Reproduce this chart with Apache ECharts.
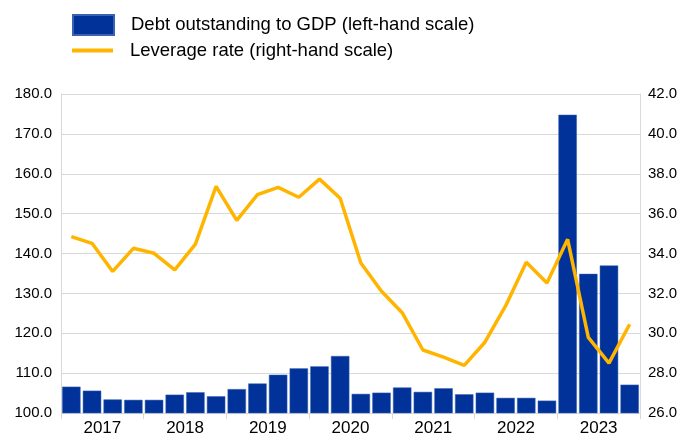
<!DOCTYPE html>
<html>
<head>
<meta charset="utf-8">
<script src="https://cdn.jsdelivr.net/npm/echarts@6/dist/echarts.min.js"></script>
<style>
html,body{margin:0;padding:0;background:#fff;}
#chart{width:685px;height:437px;}
</style>
</head>
<body>
<div id="chart"></div>
<script>
var quarters = ['2017Q1','2017Q2','2017Q3','2017Q4','2018Q1','2018Q2','2018Q3','2018Q4','2019Q1','2019Q2','2019Q3','2019Q4','2020Q1','2020Q2','2020Q3','2020Q4','2021Q1','2021Q2','2021Q3','2021Q4','2022Q1','2022Q2','2022Q3','2022Q4','2023Q1','2023Q2','2023Q3','2023Q4'];
var years = ['2017','2018','2019','2020','2021','2022','2023'];
var debtToGDP = [106.6,105.6,103.4,103.3,103.3,104.6,105.2,104.2,106.0,107.4,109.6,111.2,111.7,114.3,104.8,105.1,106.4,105.3,106.2,104.7,105.1,103.8,103.8,103.1,174.8,134.9,137.0,107.1];
var leverageRate = [34.85,34.51,33.10,34.26,34.01,33.18,34.47,37.37,35.66,36.95,37.32,36.82,37.73,36.77,33.52,32.11,31.03,29.16,28.80,28.39,29.55,31.37,33.56,32.52,34.71,29.79,28.50,30.45];
var leftTicks = {min:100, max:180, interval:10};
var rightTicks = {min:26, max:42, interval:2};
var nameDebt = 'Debt outstanding to GDP (left-hand scale)';
var nameLev = 'Leverage rate (right-hand scale)';

var FONT = '"Liberation Sans", Arial, sans-serif';
var chart = echarts.init(document.getElementById('chart'), null, {renderer:'canvas'});
chart.setOption({
  animation:false,
  backgroundColor:'#fff',
  textStyle:{fontFamily:FONT},
  legend:[
    {data:[nameDebt], left:72, top:14, padding:0, itemWidth:41, itemHeight:20, itemGap:0,
     icon:'rect', textStyle:{fontSize:18.5, color:'#000', fontFamily:FONT, padding:[0,0,0,12]}},
    {data:[nameLev], left:72, top:41, padding:0, itemWidth:41, itemHeight:4, itemGap:0,
     icon:'rect', textStyle:{fontSize:18.5, color:'#000', fontFamily:FONT, padding:[0,0,0,12]}}
  ],
  grid:{left:61, right:45, top:94, bottom:20.5, containLabel:false},
  xAxis:[
    {type:'category', data:quarters, show:false, boundaryGap:true},
    {type:'category', data:years, position:'bottom', boundaryGap:true,
     axisLine:{show:false},
     axisTick:{show:true, alignWithLabel:false, length:6, lineStyle:{color:'#d9d9d9', width:1}},
     axisLabel:{fontSize:17, color:'#000', margin:7, fontFamily:FONT},
     splitLine:{show:false}}
  ],
  yAxis:[
    {type:'value', min:leftTicks.min, max:leftTicks.max, interval:leftTicks.interval, position:'left',
     axisLine:{show:true, lineStyle:{color:'#d9d9d9', width:1}},
     axisTick:{show:false},
     axisLabel:{fontSize:15, color:'#000', margin:9, fontFamily:FONT, formatter:function(v){return v.toFixed(1);}},
     splitLine:{show:true, lineStyle:{color:'#d9d9d9', width:1}}},
    {type:'value', min:rightTicks.min, max:rightTicks.max, interval:rightTicks.interval, position:'right',
     axisLine:{show:true, lineStyle:{color:'#d9d9d9', width:1}},
     axisTick:{show:false},
     axisLabel:{fontSize:15, color:'#000', margin:8, fontFamily:FONT, formatter:function(v){return v.toFixed(1);}},
     splitLine:{show:false}}
  ],
  series:[
    {name:nameDebt, type:'bar', xAxisIndex:0, yAxisIndex:0, data:debtToGDP,
     barCategoryGap:'11%', itemStyle:{color:'#003299', borderColor:'#3a62b0', borderWidth:0.5}},
    {name:nameLev, type:'line', xAxisIndex:0, yAxisIndex:1, data:leverageRate,
     symbol:'none', lineStyle:{color:'#FFB400', width:3.5}, itemStyle:{color:'#FFB400'}, z:5}
  ]
});
</script>
</body>
</html>
